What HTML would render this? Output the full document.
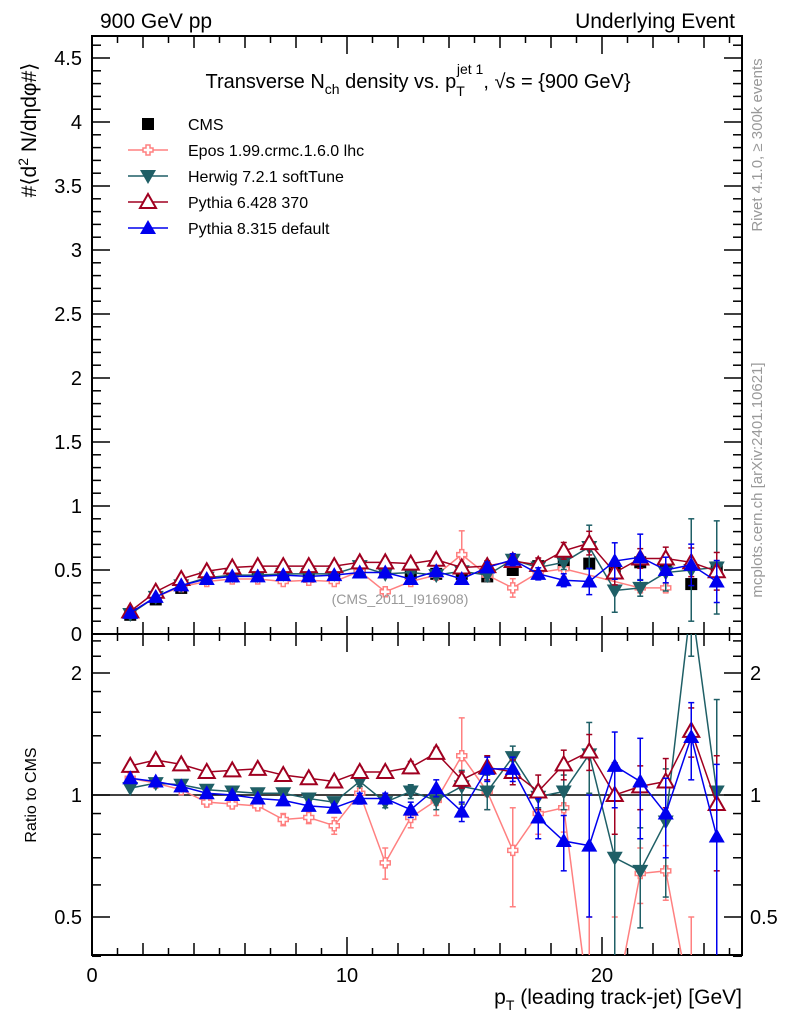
<!DOCTYPE html>
<html><head><meta charset="utf-8"><style>
html,body{margin:0;padding:0;background:#fff;overflow:hidden;}
svg{display:block;font-family:"Liberation Sans",sans-serif;}
</style></head><body>
<svg id="c" width="786" height="1024" xmlns="http://www.w3.org/2000/svg"></svg>
<script>
const xVals=[1.5,2.5,3.5,4.5,5.5,6.5,7.5,8.5,9.5,10.5,11.5,12.5,13.5,14.5,15.5,16.5,17.5,18.5,19.5,20.5,21.5,22.5,23.5,24.5];
const cmsVals=[0.15,0.27,0.36,0.43,0.45,0.46,0.47,0.48,0.49,0.49,0.49,0.47,0.47,0.47,0.45,0.50,0.53,0.55,0.55,0.48,0.56,0.55,0.39,0.52];
const eposMain=[0.165,0.29,0.37,0.41,0.43,0.43,0.41,0.42,0.41,0.49,0.33,0.41,0.46,0.62,0.46,0.36,0.48,0.51,null,null,0.36,0.36,null,null];
const herwigMain=[0.156,0.29,0.38,0.44,0.46,0.46,0.47,0.47,0.47,0.53,0.47,0.48,0.46,0.49,0.46,0.58,0.52,0.56,0.68,0.34,0.36,0.48,0.50,0.52];
const py6Main=[0.177,0.33,0.43,0.49,0.52,0.53,0.53,0.53,0.53,0.56,0.56,0.55,0.58,0.52,0.53,0.57,0.54,0.65,0.71,0.48,0.59,0.59,0.56,0.49];
const py8Main=[0.165,0.29,0.38,0.43,0.45,0.45,0.46,0.45,0.46,0.48,0.48,0.43,0.49,0.43,0.52,0.58,0.47,0.42,0.41,0.57,0.60,0.50,0.54,0.41];
const eposRatio=[1.10,1.07,1.03,0.96,0.95,0.94,0.87,0.88,0.84,1.01,0.68,0.88,0.97,1.25,1.02,0.73,0.90,0.93,0.3,0.3,0.64,0.65,0.3,null];
const herwigRatio=[1.04,1.07,1.06,1.03,1.02,1.01,1.01,0.98,0.96,1.08,0.96,1.02,0.97,1.05,1.02,1.24,0.99,1.02,1.26,0.70,0.65,0.86,3.0,1.02];
const py6Ratio=[1.18,1.22,1.19,1.14,1.15,1.16,1.12,1.10,1.08,1.14,1.14,1.17,1.27,1.09,1.17,1.14,1.02,1.19,1.28,1.0,1.05,1.08,1.44,0.95];
const py8Ratio=[1.10,1.08,1.05,1.01,1.0,0.98,0.97,0.94,0.93,0.98,0.98,0.92,1.04,0.91,1.16,1.16,0.88,0.77,0.75,1.18,1.08,0.90,1.39,0.79];
const eposErr=[0.01,0.01,0.01,0.02,0.02,0.02,0.03,0.03,0.04,0.03,0.06,0.05,0.08,0.3,0.1,0.2,0.1,0.12,0.2,0.2,0.1,0.1,0.2,0];
const herwigErr=[0.01,0.01,0.01,0.01,0.01,0.01,0.01,0.02,0.02,0.03,0.03,0.04,0.05,0.1,0.1,0.08,0.06,0.1,0.25,0.5,0.18,0.3,0.8,0.7];
const py6Err=[0.01,0.01,0.01,0.01,0.01,0.01,0.02,0.02,0.02,0.03,0.03,0.04,0.04,0.05,0.08,0.08,0.1,0.1,0.13,0.2,0.13,0.15,0.2,0.3];
const py8Err=[0.01,0.01,0.01,0.01,0.01,0.01,0.02,0.02,0.02,0.03,0.03,0.04,0.05,0.05,0.08,0.08,0.1,0.12,0.25,0.25,0.3,0.2,0.3,0.4];
const xTickLabels=[0,10,20];
const mainTickLabels=["0","0.5","1","1.5","2","2.5","3","3.5","4","4.5"];

const NS="http://www.w3.org/2000/svg";
const svg=document.getElementById('c');
const X0=92,X1=742,MT=36,MB=634,RB=955;
const xs=v=>X0+v*25.5;
const ym=v=>634-v*128;
const yr=v=>795-122*Math.log2(v);
function el(t,a,p){const e=document.createElementNS(NS,t);for(const k in a)e.setAttribute(k,a[k]);(p||svg).appendChild(e);return e;}
const defs=el('defs',{});
const cp1=el('clipPath',{id:'cm'},defs);el('rect',{x:X0,y:MT,width:X1-X0,height:MB-MT},cp1);
const cp2=el('clipPath',{id:'cr'},defs);el('rect',{x:X0,y:MB,width:X1-X0,height:RB-MB},cp2);

function txt(s,x,y,opt){const t=el('text',Object.assign({x:x,y:y,'font-size':16,fill:'#000'},opt||{}));t.textContent=s;return t;}

const fr=el('g',{});


el('rect',{x:X0,y:MT,width:X1-X0,height:MB-MT,fill:'none',stroke:'#000','stroke-width':2},fr);
el('rect',{x:X0,y:MB,width:X1-X0,height:RB-MB,fill:'none',stroke:'#000','stroke-width':2},fr);

for(let i=0;i<=25;i++){
  const len=i%10==0?18:(i%2==0?12:7);
  const x=xs(i);
  el('line',{x1:x,x2:x,y1:RB,y2:RB-len,stroke:'#000','stroke-width':1.5});
  el('line',{x1:x,x2:x,y1:MB,y2:MB-len,stroke:'#000','stroke-width':1.5});
  el('line',{x1:x,x2:x,y1:MB,y2:MB+len,stroke:'#000','stroke-width':1.5});
  el('line',{x1:x,x2:x,y1:MT,y2:MT+len,stroke:'#000','stroke-width':1.5});
}
xTickLabels.forEach(v=>{const t=txt(String(v),xs(v),982,{'text-anchor':'middle','font-size':20});
});

for(let i=0;i<=46;i++){
  const v=i*0.1;const y=ym(v);if(y<MT)continue;
  const len=i%5==0?18:9;
  el('line',{x1:X0,x2:X0+len,y1:y,y2:y,stroke:'#000','stroke-width':1.5});
  el('line',{x1:X1,x2:X1-len,y1:y,y2:y,stroke:'#000','stroke-width':1.5});
}
mainTickLabels.forEach((s,i)=>{const t=txt(s,82,ym(i*0.5)+7,{'text-anchor':'end','font-size':20});
});

const rt=[0.4,0.5,0.6,0.7,0.8,0.9,1,1.2,1.4,1.6,1.8,2,2.2,2.4];
rt.forEach(v=>{const y=yr(v);const maj=(v==0.5||v==1||v==2);const len=maj?18:9;
  el('line',{x1:X0,x2:X0+len,y1:y,y2:y,stroke:'#000','stroke-width':1.5});
  el('line',{x1:X1,x2:X1-len,y1:y,y2:y,stroke:'#000','stroke-width':1.5});
  if(maj){txt(String(v),82,y+7,{'text-anchor':'end','font-size':20});txt(String(v),750,y+7,{'font-size':20});}
});
el('line',{x1:X0,x2:X1,y1:yr(1),y2:yr(1),stroke:'#000','stroke-width':1.5});

function marker(g,type,x,y,col){
  if(type=='sq')el('rect',{x:x-6,y:y-6,width:12,height:12,fill:col},g);
  else if(type=='up')el('polygon',{points:`${x},${y-8} ${x-8},${y+6} ${x+8},${y+6}`,fill:col},g);
  else if(type=='upo')el('polygon',{points:`${x},${y-8} ${x-8},${y+6} ${x+8},${y+6}`,fill:'#fff',stroke:col,'stroke-width':2},g);
  else if(type=='dn')el('polygon',{points:`${x},${y+8} ${x-8},${y-6} ${x+8},${y-6}`,fill:col},g);
  else if(type=='cr')el('path',{d:`M${x-2},${y-5}h4v3h3v4h-3v3h-4v-3h-3v-4h3z`,fill:'#fff',stroke:col,'stroke-width':1.5},g);
}
const series=[
 {name:'epos',main:eposMain,ratio:eposRatio,err:eposErr,col:'#ff8080',m:'cr'},
 {name:'herwig',main:herwigMain,ratio:herwigRatio,err:herwigErr,col:'#1f5f66',m:'dn'},
 {name:'pythia6',main:py6Main,ratio:py6Ratio,err:py6Err,col:'#a00020',m:'upo'},
 {name:'pythia8',main:py8Main,ratio:py8Ratio,err:py8Err,col:'#0000ee',m:'up'}];

const cg=el('g',{'clip-path':'url(#cm)'});


xVals.forEach((x,i)=>marker(cg,'sq',xs(x),ym(cmsVals[i]),'#000'));

function drawSeries(s,panel){
  const g=el('g',{'clip-path':panel=='main'?'url(#cm)':'url(#cr)'});
  
  
  const vals=panel=='main'?s.main:s.ratio;
  const Y=v=>panel=='main'?ym(v):yr(Math.max(v,0.05));
  let d='';
  xVals.forEach((x,i)=>{const r=vals[i];if(r==null)return;d+=(d?'L':'M')+xs(x)+','+Y(r);});
  el('path',{d:d,fill:'none',stroke:s.col,'stroke-width':1.5},g);
  xVals.forEach((x,i)=>{const r=vals[i];if(r==null)return;const e=panel=='main'?s.err[i]*r:s.err[i];
    const lo=Math.max(r-e,0.02),hi=r+e;const px=xs(x);
    el('line',{x1:px,x2:px,y1:Y(lo),y2:Y(hi),stroke:s.col,'stroke-width':1.5},g);
    el('line',{x1:px-3,x2:px+3,y1:Y(lo),y2:Y(lo),stroke:s.col,'stroke-width':1.5},g);
    el('line',{x1:px-3,x2:px+3,y1:Y(hi),y2:Y(hi),stroke:s.col,'stroke-width':1.5},g);
    marker(g,s.m,px,Y(r),s.col);});
}
series.forEach(s=>{drawSeries(s,'main');drawSeries(s,'ratio');});

const lg=el('g',{});


const legItems=[['CMS','sq','#000'],['Epos 1.99.crmc.1.6.0 lhc','cr','#ff8080'],['Herwig 7.2.1 softTune','dn','#1f5f66'],['Pythia 6.428 370','upo','#a00020'],['Pythia 8.315 default','up','#0000ee']];
legItems.forEach((it,i)=>{const y=124+i*26;
  if(i>0)el('line',{x1:128,x2:168,y1:y,y2:y,stroke:it[2],'stroke-width':1.5},lg);
  marker(lg,it[1],148,y,it[2]);
  txt(it[0],188,y+6,{'font-size':16});
});

txt('900 GeV pp',100,28,{'font-size':21});
txt('Underlying Event',735,28,{'font-size':21,'text-anchor':'end'});
const tt=el('text',{x:418,y:88,'font-size':20,'text-anchor':'middle'});

tt.innerHTML='Transverse N<tspan font-size="14" dy="6">ch</tspan><tspan dy="-6"> density vs. p</tspan><tspan font-size="14" dy="8">T</tspan><tspan font-size="14" dy="-22" dx="-8">jet 1</tspan><tspan dy="14">, √s = {900 GeV}</tspan>';
txt('(CMS_2011_I916908)',400,604,{'font-size':14,fill:'#999','text-anchor':'middle'});
const yl=el('text',{transform:'translate(36,130) rotate(-90)','font-size':21,'text-anchor':'middle'});

yl.innerHTML='#⟨d<tspan font-size="14" dy="-8">2</tspan><tspan dy="8"> N/dηdφ#⟩</tspan>';
const rl=el('text',{transform:'translate(36,795) rotate(-90)','font-size':16,'text-anchor':'middle'});
rl.textContent='Ratio to CMS';
const xl=el('text',{x:742,y:1004,'font-size':21,'text-anchor':'end'});

xl.innerHTML='p<tspan font-size="14" dy="6">T</tspan><tspan dy="-6"> (leading track-jet) [GeV]</tspan>';
const r1=el('text',{transform:'translate(762,145) rotate(-90)','font-size':15,fill:'#999','text-anchor':'middle'});
r1.textContent='Rivet 4.1.0, ≥ 300k events';
const r2=el('text',{transform:'translate(762,480) rotate(-90)','font-size':15,fill:'#999','text-anchor':'middle'});
r2.textContent='mcplots.cern.ch [arXiv:2401.10621]';
</script>
</body></html>
